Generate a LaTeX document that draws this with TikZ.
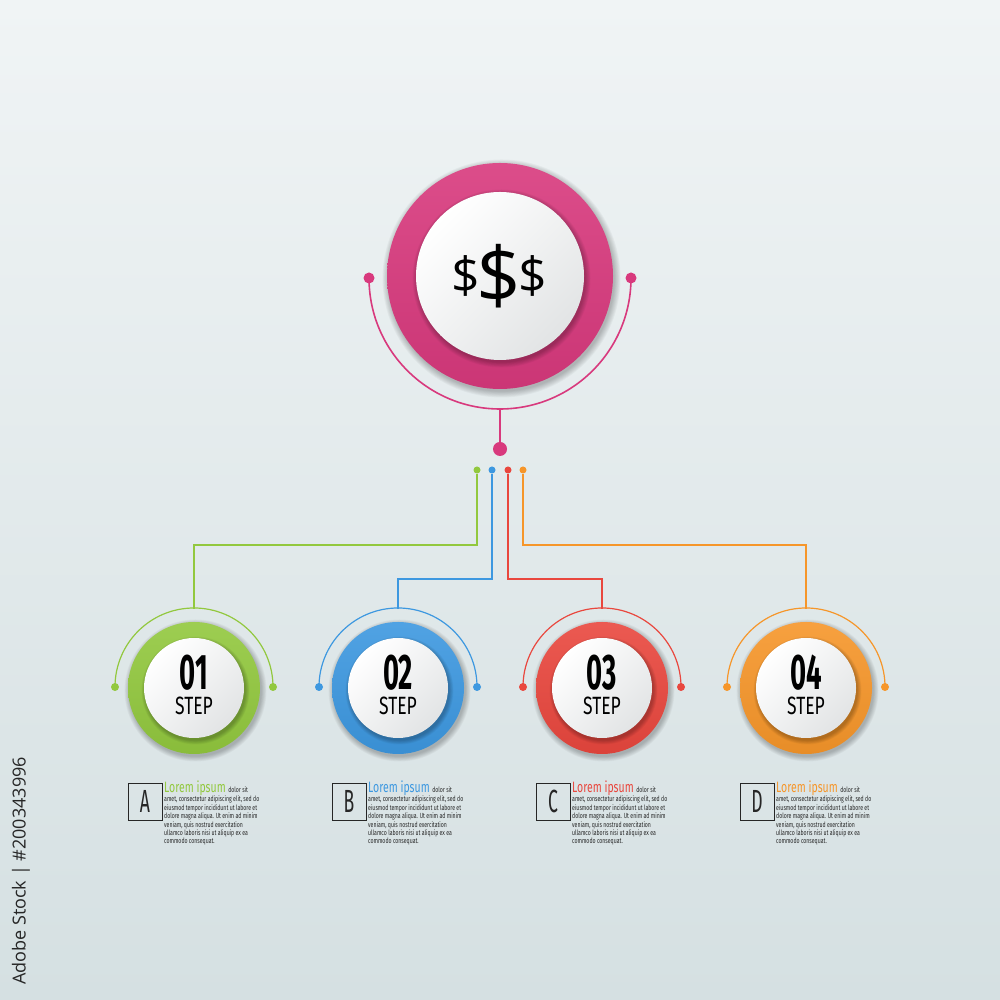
\documentclass[tikz,border=0pt]{standalone}
\usepackage{fontspec}
\setmainfont{Fira Sans}
\newfontfamily\numfont[FakeStretch=0.55]{Fira Sans}
\newfontfamily\condfont[FakeStretch=0.7]{Fira Sans}
\newfontfamily\dollarfont{Open Sans}
\newfontfamily\markfont{Open Sans}
\definecolor{pinkC}{HTML}{D8397D}
\definecolor{greenC}{HTML}{92C83E}
\definecolor{blueC}{HTML}{3D98E0}
\definecolor{redC}{HTML}{E9473E}
\definecolor{orangeC}{HTML}{F6962A}
\definecolor{bgTop}{HTML}{F0F4F5}
\definecolor{bgBot}{HTML}{D5E0E2}
\definecolor{discgray}{HTML}{E2E4E5}
\definecolor{txt}{HTML}{262626}
\newcommand\softshadow[4]{% x, y, radius, spread
  \foreach \k in {0,...,7}{\fill[black, opacity=0.03] (#1+1.5,#2-2.5) circle[radius=#3+#4-\k*#4/7];}}
\begin{document}
\begin{tikzpicture}[x=1pt,y=1pt,
  ring/.style={circle, inner sep=0pt, top color=#1!90!white, bottom color=#1!94!black},
  disc/.style={circle, inner sep=0pt, top color=white, bottom color=discgray, shading angle=45},
  dot/.style={circle, inner sep=0pt, fill=#1},
  conn/.style={line width=1.3pt},
  lbox/.style={draw=txt, line width=0.9pt, minimum width=34pt, minimum height=37pt, inner sep=0pt},
  para/.style={inner sep=0pt, anchor=north west, align=left, text=txt,
    font={\condfont\fontsize{7.4}{8.4}\selectfont}},
  steplabel/.style={inner sep=0pt, align=center, font={\condfont\fontsize{25}{25}\selectfont}},
]
\useasboundingbox (0,0) rectangle (1000,1000);
\shade[top color=bgTop, bottom color=bgBot] (0,0) rectangle (1000,1000);

% ---- top element
\softshadow{500}{724}{113}{6}
\node[ring=pinkC, minimum size=226pt] (topring) at (500,724) {};
\softshadow{500}{724}{84}{5}
\node[disc, minimum size=168pt] (topdisc) at (500,724) {};
\node[inner sep=0pt, anchor=base] (dollars) at (499,696)
  {\dollarfont\raisebox{10pt}{\fontsize{50}{50}\selectfont\$}\kern-3pt{\fontsize{78}{78}\selectfont\$}\kern-3pt\raisebox{10pt}{\fontsize{50}{50}\selectfont\$}};

\node[dot=pinkC, minimum size=11pt] (tdl) at (369,722) {};
\node[dot=pinkC, minimum size=11pt] (tdr) at (631,722) {};
\draw[pinkC, line width=1.6pt] (tdl.center) arc[start angle=180, end angle=360, radius=131] coordinate (tarcend);
\coordinate (tbot) at (500,591);
\node[dot=pinkC, minimum size=14pt] (hub) at (500,551) {};
\draw[pinkC, line width=1.6pt] (tbot) -- (hub);

% ---- small dots and connectors
\node[dot=greenC, minimum size=7pt] (gdot) at (477,530) {};
\node[dot=blueC, minimum size=7pt] (bdot) at (492,530) {};
\node[dot=redC, minimum size=7pt] (rdot) at (508,530) {};
\node[dot=orangeC, minimum size=7pt] (odot) at (523,530) {};
\coordinate (gcorner) at (194,455);
\coordinate (bcorner) at (398,421);
\coordinate (rcorner) at (602,421);
\coordinate (ocorner) at (806,455);
\coordinate (st1) at (194,391);
\coordinate (st2) at (398,391);
\coordinate (st3) at (602,391);
\coordinate (st4) at (806,391);
\draw[greenC, conn] (gdot) |- (gcorner) -- (st1);
\draw[blueC, conn] (bdot) |- (bcorner) -- (st2);
\draw[redC, conn] (rdot) |- (rcorner) -- (st3);
\draw[orangeC, conn] (odot) |- (ocorner) -- (st4);

% ---- steps
\foreach \i/\x/\c/\L/\num in {1/194/greenC/A/01, 2/398/blueC/B/02, 3/602/redC/C/03, 4/806/orangeC/D/04}{
  \softshadow{\x}{312}{66}{5}
  \node[ring=\c, minimum size=132pt] (sr\i) at (\x,312) {};
  \softshadow{\x}{312}{50}{4}
  \node[disc, minimum size=100pt] (sd\i) at (\x,312) {};
  \node[steplabel] (sn\i) at (\x,315)
    {{\numfont\bfseries\fontsize{50}{50}\selectfont \num}\\STEP};
  \node[dot=\c, minimum size=8pt] (sl\i) at (\x-79,313) {};
  \node[dot=\c, minimum size=8pt] (sR\i) at (\x+79,313) {};
  \draw[\c, line width=1.2pt] (sl\i.center) arc[start angle=180, end angle=0, radius=79];
  % text block
  \node[lbox] (box\i) at (\x-49,198.5) {\numfont\fontsize{32}{32}\selectfont\color{txt}\L};
  \node[inner sep=0pt, anchor=base west] (tt\i) at (\x-30,207)
    {\condfont\fontsize{15}{15}\selectfont\color{\c}Lorem ipsum\,{\fontsize{7.4}{7.4}\selectfont\color{txt} dolor sit}};
  \node[para] (tp\i) at (\x-30,204)
    {amet, consectetur adipiscing elit, sed do\\
     eiusmod tempor incididunt ut labore et\\
     dolore magna aliqua. Ut enim ad minim\\
     veniam, quis nostrud exercitation\\
     ullamco laboris nisi ut aliquip ex ea\\
     commodo consequat.};
}

% ---- side credit
\node[rotate=90, inner sep=0pt, text=txt] (credit) at (21,129)
  {\markfont\fontsize{18}{18}\selectfont Adobe Stock | \#200343996};
\end{tikzpicture}
\end{document}
